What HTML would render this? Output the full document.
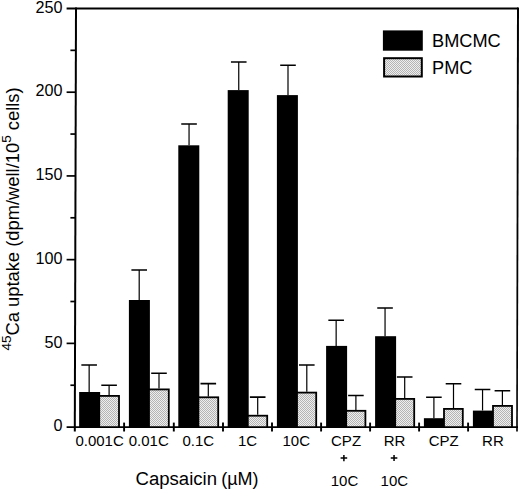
<!DOCTYPE html>
<html><head><meta charset="utf-8"><style>
html,body{margin:0;padding:0;background:#fff;}
body{width:520px;height:490px;overflow:hidden;}
svg{display:block;font-family:"Liberation Sans",sans-serif;}
</style></head><body>
<svg width="520" height="490" viewBox="0 0 520 490">
<defs><pattern id="hp" width="2" height="2" patternUnits="userSpaceOnUse"><rect width="2" height="2" fill="#eeeeee"/><rect width="1" height="1" fill="#b4b4b4"/><rect x="1" y="1" width="1" height="1" fill="#b4b4b4"/></pattern></defs>
<path d="M89.15 392.00V364.90M109.10 395.00V385.30" stroke="#000" stroke-width="1.2" fill="none"/>
<path d="M81.35 364.90H96.95M101.30 385.30H116.90" stroke="#000" stroke-width="1.55" fill="none"/>
<rect x="79.15" y="392.00" width="21.00" height="35.10" fill="#000"/>
<rect x="98.35" y="395.00" width="21.55" height="32.10" fill="#000"/>
<rect x="100.15" y="396.80" width="17.95" height="30.30" fill="url(#hp)"/>
<path d="M139.20 300.00V270.00M159.00 388.50V373.20" stroke="#000" stroke-width="1.2" fill="none"/>
<path d="M131.40 270.00H147.00M151.20 373.20H166.80" stroke="#000" stroke-width="1.55" fill="none"/>
<rect x="128.90" y="300.00" width="21.00" height="127.10" fill="#000"/>
<rect x="148.10" y="388.50" width="21.60" height="38.60" fill="#000"/>
<rect x="149.90" y="390.30" width="18.00" height="36.80" fill="url(#hp)"/>
<path d="M189.05 145.30V124.00M208.30 396.40V383.60" stroke="#000" stroke-width="1.2" fill="none"/>
<path d="M181.25 124.00H196.85M200.50 383.60H216.10" stroke="#000" stroke-width="1.55" fill="none"/>
<rect x="178.30" y="145.30" width="21.00" height="281.80" fill="#000"/>
<rect x="197.50" y="396.40" width="21.60" height="30.70" fill="#000"/>
<rect x="199.30" y="398.20" width="18.00" height="28.90" fill="url(#hp)"/>
<path d="M238.75 90.10V62.00M257.70 414.80V397.10" stroke="#000" stroke-width="1.2" fill="none"/>
<path d="M230.95 62.00H246.55M249.90 397.10H265.50" stroke="#000" stroke-width="1.55" fill="none"/>
<rect x="227.70" y="90.10" width="21.00" height="337.00" fill="#000"/>
<rect x="246.90" y="414.80" width="21.20" height="12.30" fill="#000"/>
<rect x="248.70" y="416.60" width="17.60" height="10.50" fill="url(#hp)"/>
<path d="M288.00 95.10V65.20M306.80 391.70V364.90" stroke="#000" stroke-width="1.2" fill="none"/>
<path d="M280.20 65.20H295.80M299.00 364.90H314.60" stroke="#000" stroke-width="1.55" fill="none"/>
<rect x="276.90" y="95.10" width="21.00" height="332.00" fill="#000"/>
<rect x="296.10" y="391.70" width="21.00" height="35.40" fill="#000"/>
<rect x="297.90" y="393.50" width="17.40" height="33.60" fill="url(#hp)"/>
<path d="M336.15 345.90V320.20M355.90 409.90V395.40" stroke="#000" stroke-width="1.2" fill="none"/>
<path d="M328.35 320.20H343.95M348.10 395.40H363.70" stroke="#000" stroke-width="1.55" fill="none"/>
<rect x="326.10" y="345.90" width="21.00" height="81.20" fill="#000"/>
<rect x="345.30" y="409.90" width="21.00" height="17.20" fill="#000"/>
<rect x="347.10" y="411.70" width="17.40" height="15.40" fill="url(#hp)"/>
<path d="M385.05 336.20V307.90M404.70 398.00V377.00" stroke="#000" stroke-width="1.2" fill="none"/>
<path d="M377.25 307.90H392.85M396.90 377.00H412.50" stroke="#000" stroke-width="1.55" fill="none"/>
<rect x="375.10" y="336.20" width="21.00" height="90.90" fill="#000"/>
<rect x="394.30" y="398.00" width="20.80" height="29.10" fill="#000"/>
<rect x="396.10" y="399.80" width="17.20" height="27.30" fill="url(#hp)"/>
<path d="M433.90 418.20V397.20M453.50 408.00V383.80" stroke="#000" stroke-width="1.2" fill="none"/>
<path d="M426.10 397.20H441.70M445.70 383.80H461.30" stroke="#000" stroke-width="1.55" fill="none"/>
<rect x="423.90" y="418.20" width="21.00" height="8.90" fill="#000"/>
<rect x="443.10" y="408.00" width="20.60" height="19.10" fill="#000"/>
<rect x="444.90" y="409.80" width="17.00" height="17.30" fill="url(#hp)"/>
<path d="M482.55 410.60V389.40M502.40 405.00V390.70" stroke="#000" stroke-width="1.2" fill="none"/>
<path d="M474.75 389.40H490.35M494.60 390.70H510.20" stroke="#000" stroke-width="1.55" fill="none"/>
<rect x="472.90" y="410.60" width="21.00" height="16.50" fill="#000"/>
<rect x="492.10" y="405.00" width="20.80" height="22.10" fill="#000"/>
<rect x="493.90" y="406.80" width="17.20" height="20.30" fill="url(#hp)"/>
<path d="M73.8 431.5 L75.0 7.6 L77.0 7.6 L75.8 431.5Z" fill="#000"/>
<path d="M516.2 431.6 L517.0 7.6 L519.0 7.6 L517.8 431.6Z" fill="#000"/>
<line x1="66.6" y1="8.6" x2="518" y2="8.6" stroke="#000" stroke-width="2"/>
<line x1="66.6" y1="427.10" x2="518" y2="427.10" stroke="#000" stroke-width="1.8"/>
<line x1="70.40" y1="385.24" x2="75" y2="385.24" stroke="#000" stroke-width="1.7"/>
<line x1="66.60" y1="343.38" x2="75" y2="343.38" stroke="#000" stroke-width="1.7"/>
<line x1="70.40" y1="301.51" x2="75" y2="301.51" stroke="#000" stroke-width="1.7"/>
<line x1="66.60" y1="259.65" x2="75" y2="259.65" stroke="#000" stroke-width="1.7"/>
<line x1="70.40" y1="217.79" x2="75" y2="217.79" stroke="#000" stroke-width="1.7"/>
<line x1="66.60" y1="175.93" x2="75" y2="175.93" stroke="#000" stroke-width="1.7"/>
<line x1="70.40" y1="134.06" x2="75" y2="134.06" stroke="#000" stroke-width="1.7"/>
<line x1="66.60" y1="92.20" x2="75" y2="92.20" stroke="#000" stroke-width="1.7"/>
<line x1="70.40" y1="50.34" x2="75" y2="50.34" stroke="#000" stroke-width="1.7"/>
<line x1="124.10" y1="422.6" x2="124.10" y2="431.5" stroke="#000" stroke-width="1.9"/>
<line x1="173.80" y1="422.6" x2="173.80" y2="431.5" stroke="#000" stroke-width="1.9"/>
<line x1="223.00" y1="422.6" x2="223.00" y2="431.5" stroke="#000" stroke-width="1.9"/>
<line x1="272.00" y1="422.6" x2="272.00" y2="431.5" stroke="#000" stroke-width="1.9"/>
<line x1="321.10" y1="422.6" x2="321.10" y2="431.5" stroke="#000" stroke-width="1.9"/>
<line x1="370.10" y1="422.6" x2="370.10" y2="431.5" stroke="#000" stroke-width="1.9"/>
<line x1="419.10" y1="422.6" x2="419.10" y2="431.5" stroke="#000" stroke-width="1.9"/>
<line x1="468.10" y1="422.6" x2="468.10" y2="431.5" stroke="#000" stroke-width="1.9"/>
<text transform="translate(62.4 431.30) scale(1 1.04)" text-anchor="end" font-size="16.2">0</text>
<text transform="translate(62.4 347.57) scale(1 1.04)" text-anchor="end" font-size="16.2">50</text>
<text transform="translate(62.4 263.85) scale(1 1.04)" text-anchor="end" font-size="16.2">100</text>
<text transform="translate(62.4 180.12) scale(1 1.04)" text-anchor="end" font-size="16.2">150</text>
<text transform="translate(62.4 96.40) scale(1 1.04)" text-anchor="end" font-size="16.2">200</text>
<text transform="translate(62.4 12.68) scale(1 1.04)" text-anchor="end" font-size="16.2">250</text>
<text transform="translate(99.59 445.60) scale(1 1.0)" text-anchor="middle" font-size="15">0.001C</text>
<text transform="translate(148.75 445.60) scale(1 1.0)" text-anchor="middle" font-size="15">0.01C</text>
<text transform="translate(198.33 445.60) scale(1 1.0)" text-anchor="middle" font-size="15">0.1C</text>
<text transform="translate(247.59 445.60) scale(1 1.0)" text-anchor="middle" font-size="15">1C</text>
<text transform="translate(296.26 445.60) scale(1 1.0)" text-anchor="middle" font-size="15">10C</text>
<text transform="translate(346.04 445.60) scale(1 1.0)" text-anchor="middle" font-size="15">CPZ</text>
<text transform="translate(394.60 445.60) scale(1 1.0)" text-anchor="middle" font-size="15">RR</text>
<text transform="translate(443.77 445.60) scale(1 1.0)" text-anchor="middle" font-size="15">CPZ</text>
<text transform="translate(492.94 445.60) scale(1 1.0)" text-anchor="middle" font-size="15">RR</text>
<path d="M340.60 458.10H347.20M343.90 455.00V461.20" stroke="#000" stroke-width="1.5" fill="none"/>
<text transform="translate(344.50 485.70) scale(1 1.0)" text-anchor="middle" font-size="15">10C</text>
<path d="M390.75 458.00H397.35M394.05 454.90V461.10" stroke="#000" stroke-width="1.5" fill="none"/>
<text transform="translate(394.35 485.70) scale(1 1.0)" text-anchor="middle" font-size="15">10C</text>
<text transform="translate(135.6 485.2) scale(1.03 1)" font-size="18">Capsaicin</text>
<text transform="translate(221.2 485.2)" font-size="18">(µM)</text>
<text transform="translate(18.6 219) rotate(-90) scale(1.043 1)" text-anchor="middle" font-size="17.6"><tspan font-size="13" dy="-7.6">45</tspan><tspan dy="7.6">Ca uptake (dpm/well/10</tspan><tspan font-size="13" dy="-7.6">5</tspan><tspan dy="7.6"> cells)</tspan></text>
<rect x="382.9" y="30.4" width="39.9" height="20.3" fill="#000"/>
<rect x="383.1" y="57.2" width="39.7" height="20.3" fill="#000"/>
<rect x="385.1" y="59.2" width="35.7" height="16.3" fill="url(#hp)"/>
<text x="432.0" y="46.6" font-size="18.2">BMCMC</text>
<text x="432.0" y="73.7" font-size="18.2">PMC</text>
</svg>
</body></html>
